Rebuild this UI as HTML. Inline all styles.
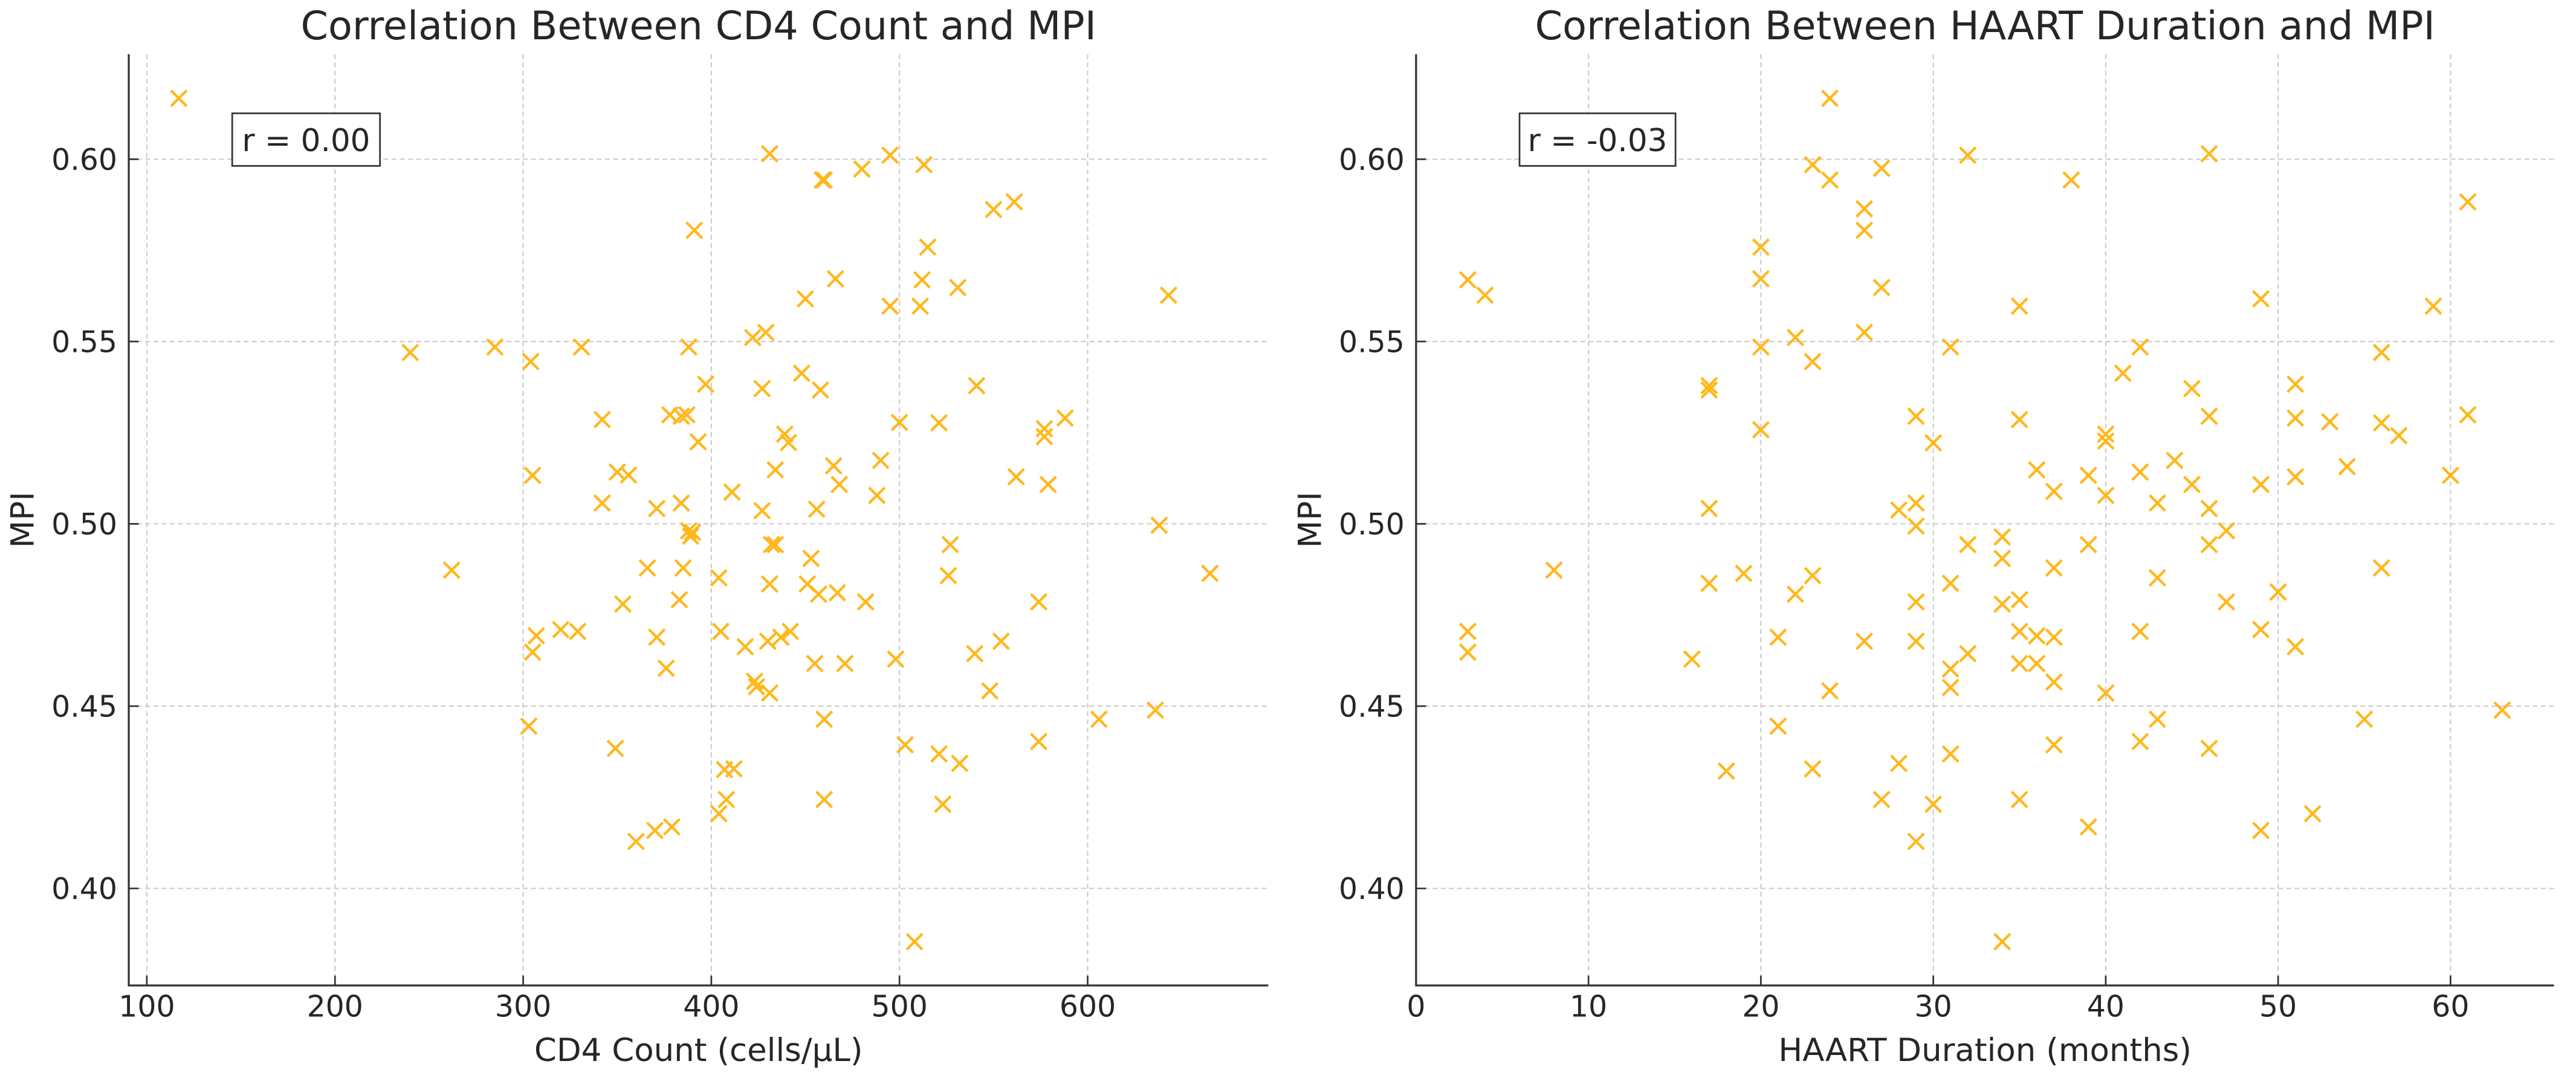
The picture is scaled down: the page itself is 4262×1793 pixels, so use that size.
<!DOCTYPE html>
<html><head><meta charset="utf-8"><style>
html,body{margin:0;padding:0;background:#fff;}
svg{display:block;font-family:"DejaVu Sans","Liberation Sans",sans-serif;}
</style></head><body>
<svg id="chart" width="4262" height="1793" viewBox="0 0 1568 660" xmlns="http://www.w3.org/2000/svg"></svg>
<script>
const cd4X=[117,431,459,460,480,495,513,550,561,391,515,466,512,531,643,450,495,511,422,429,240,285,304,331,388,397,427,448,458,541,342,378,384,387,500,521,577,577,588,439,441,393,305,350,356,434,465,468,490,562,579,342,371,384,411,427,456,488,388,389,390,432,434,638,527,262,366,385,404,431,453,451,457,467,482,526,665,574,353,383,307,305,320,329,371,376,405,418,430,437,442,455,471,498,540,554,423,424,431,548,303,460,606,636,349,407,412,503,521,532,574,408,404,460,523,360,370,379,508];
const cd4Y=[0.6167,0.6015,0.5943,0.5943,0.5973,0.6011,0.5985,0.5862,0.5883,0.5805,0.5759,0.5672,0.5669,0.5648,0.5627,0.5617,0.5597,0.5597,0.5511,0.5525,0.5470,0.5485,0.5445,0.5485,0.5485,0.5383,0.5371,0.5413,0.5367,0.5379,0.5286,0.5299,0.5295,0.5299,0.5278,0.5277,0.5261,0.5239,0.5290,0.5246,0.5223,0.5225,0.5133,0.5142,0.5134,0.5148,0.5159,0.5108,0.5174,0.5129,0.5108,0.5057,0.5042,0.5057,0.5087,0.5036,0.5040,0.5078,0.4981,0.4966,0.4977,0.4943,0.4943,0.4996,0.4943,0.4873,0.4879,0.4879,0.4852,0.4835,0.4905,0.4835,0.4807,0.4811,0.4786,0.4858,0.4864,0.4786,0.4780,0.4792,0.4693,0.4648,0.4710,0.4705,0.4689,0.4604,0.4705,0.4663,0.4678,0.4689,0.4705,0.4617,0.4617,0.4629,0.4644,0.4678,0.4568,0.4553,0.4536,0.4542,0.4445,0.4464,0.4464,0.4489,0.4384,0.4326,0.4328,0.4394,0.4369,0.4343,0.4403,0.4244,0.4205,0.4244,0.4231,0.4129,0.4159,0.4169,0.3854];
const haartX=[24,32,46,23,24,27,38,26,26,61,20,20,3,4,27,35,49,59,22,26,20,23,31,42,56,41,17,17,45,51,29,35,46,51,53,56,61,20,30,40,40,57,36,39,42,44,45,49,51,54,60,37,40,17,28,29,29,43,46,47,34,34,32,39,46,8,19,23,17,22,31,37,43,50,56,29,34,35,47,3,3,21,26,29,35,36,37,42,49,51,16,31,32,35,36,31,24,37,40,21,43,55,63,18,23,28,31,37,42,46,27,30,35,52,29,39,49,34];
const haartY=[0.6167,0.6011,0.6015,0.5985,0.5943,0.5975,0.5943,0.5864,0.5805,0.5883,0.5759,0.5672,0.5669,0.5627,0.5648,0.5597,0.5617,0.5597,0.5511,0.5525,0.5485,0.5445,0.5485,0.5485,0.5470,0.5413,0.5379,0.5367,0.5371,0.5383,0.5295,0.5286,0.5295,0.5290,0.5280,0.5277,0.5299,0.5258,0.5222,0.5246,0.5227,0.5242,0.5148,0.5133,0.5142,0.5174,0.5108,0.5108,0.5129,0.5157,0.5133,0.5089,0.5078,0.5042,0.5038,0.5057,0.4994,0.5057,0.5042,0.4981,0.4964,0.4905,0.4943,0.4943,0.4943,0.4873,0.4864,0.4858,0.4837,0.4807,0.4837,0.4879,0.4852,0.4813,0.4879,0.4786,0.4780,0.4792,0.4786,0.4705,0.4648,0.4689,0.4678,0.4678,0.4705,0.4693,0.4689,0.4705,0.4710,0.4663,0.4629,0.4602,0.4644,0.4617,0.4617,0.4551,0.4542,0.4566,0.4536,0.4445,0.4464,0.4464,0.4489,0.4322,0.4328,0.4343,0.4369,0.4394,0.4403,0.4384,0.4244,0.4231,0.4244,0.4205,0.4129,0.4169,0.4159,0.3854];
const cd4Ticks=[100,200,300,400,500,600];
const haartTicks=[0,10,20,30,40,50,60];
const yTicks=[0.40,0.45,0.50,0.55,0.60];
const yTickLabels=["0.40","0.45","0.50","0.55","0.60"];
const rValues=["r = 0.00","r = -0.03"];

const NS="http://www.w3.org/2000/svg";
const svg=document.getElementById('chart');
function mk(tag,attrs,parent){const e=document.createElementNS(NS,tag);for(const k in attrs)e.setAttribute(k,attrs[k]);(parent||svg).appendChild(e);return e;}

const panels=[
 {x0:78,x1:772,xmin:90.4,xmax:696,xs:cd4X,ys:cd4Y,ticks:cd4Ticks,title:"Correlation Between CD4 Count and MPI",xlabel:"CD4 Count (cells/µL)",r:rValues[0],rw:90,key:"cd4"},
 {x0:862,x1:1555,xmin:0,xmax:66,xs:haartX,ys:haartY,ticks:haartTicks,title:"Correlation Between HAART Duration and MPI",xlabel:"HAART Duration (months)",r:rValues[1],rw:95,key:"haart"}
];
const yTop=33,yBot=600,ymin=0.3734,ymax=0.6288;
function sy(v){return yBot-(v-ymin)/(ymax-ymin)*(yBot-yTop);}

panels.forEach(p=>{
  const sx=v=>p.x0+(v-p.xmin)/(p.xmax-p.xmin)*(p.x1-p.x0);
  const g=mk('g',{});
  
  
  p.ticks.forEach(t=>{
    const l=mk('line',{x1:sx(t),x2:sx(t),y1:yTop,y2:yBot,stroke:'#cccccc','stroke-width':0.8,'stroke-dasharray':'3,2'},g);
    
    
    const tk=mk('line',{x1:sx(t),x2:sx(t),y1:yBot,y2:yBot-6,stroke:'#333','stroke-width':1},g);
    
    
    const tx=mk('text',{x:sx(t),y:619,'text-anchor':'middle','font-size':18,fill:'#262626'},g);
    tx.textContent=t;
    
    
  });
  yTicks.forEach((t,i)=>{
    const l=mk('line',{x1:p.x0,x2:p.x1,y1:sy(t),y2:sy(t),stroke:'#cccccc','stroke-width':0.8,'stroke-dasharray':'3,2'},g);
    
    
    const tk=mk('line',{x1:p.x0,x2:p.x0+6,y1:sy(t),y2:sy(t),stroke:'#333','stroke-width':1},g);
    
    
    const tx=mk('text',{x:p.x0-7,y:sy(t)+6.5,'text-anchor':'end','font-size':18,fill:'#262626'},g);
    tx.textContent=yTickLabels[i];
    
    
  });
  const sp=mk('path',{d:`M${p.x0},${yTop}V${yBot}H${p.x1}`,fill:'none',stroke:'#333','stroke-width':1.2},g);
  
  
  p.xs.forEach((v,i)=>{
    const cx=sx(v),cy=sy(p.ys[i]),s=4.8;
    const m=mk('path',{d:`M${cx-s},${cy-s}L${cx+s},${cy+s}M${cx-s},${cy+s}L${cx+s},${cy-s}`,stroke:'#FFB81C','stroke-width':1.6,fill:'none'},g);
    
    
  });
  const ti=mk('text',{x:(p.x0+p.x1)/2,y:24,'text-anchor':'middle','font-size':24,fill:'#262626'},g);
  ti.textContent=p.title;
  
  
  const xl=mk('text',{x:(p.x0+p.x1)/2,y:646,'text-anchor':'middle','font-size':19.5,fill:'#262626'},g);
  xl.textContent=p.xlabel;
  
  
  const yl=mk('text',{x:0,y:0,'text-anchor':'middle','font-size':19.5,fill:'#262626',transform:`translate(${p.x0-58},${(yTop+yBot)/2}) rotate(-90)`},g);
  yl.textContent="MPI";
  
  
  const rb=mk('rect',{x:p.x0+63,y:69,width:p.rw,height:32,fill:'#fff',stroke:'#333','stroke-width':1},g);
  
  
  const rt=mk('text',{x:p.x0+63+p.rw/2,y:92,'text-anchor':'middle','font-size':19,fill:'#262626'},g);
  rt.textContent=p.r;
  
  
});
</script>
</body></html>
